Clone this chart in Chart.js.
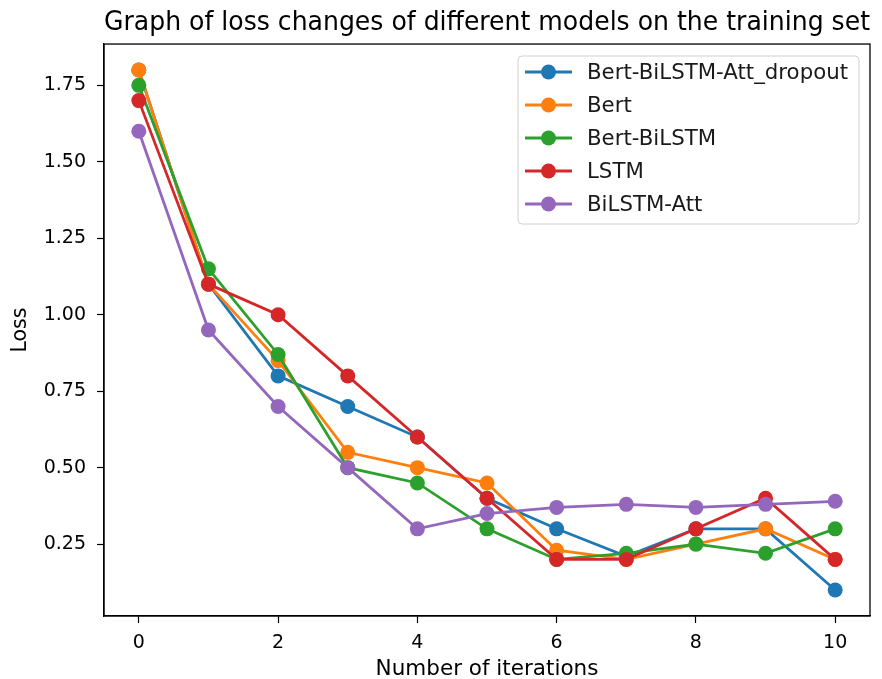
<!DOCTYPE html>
<html>
<head>
  <script src="https://cdn.jsdelivr.net/npm/chart.js"></script>
  <style>
    body { margin: 0; background: #fff; }
    #wrap { width: 882px; height: 679px; }
  </style>
</head>
<body>
<div id="wrap"><canvas id="lossChart"></canvas></div>
<script>
// iterations on the x axis
const iterations = [0, 1, 2, 3, 4, 5, 6, 7, 8, 9, 10];
const xTicks = [0, 2, 4, 6, 8, 10];
const yTicks = [0.25, 0.5, 0.75, 1.0, 1.25, 1.5, 1.75];

const modelNames = ['Bert-BiLSTM-Att_dropout', 'Bert', 'Bert-BiLSTM', 'LSTM', 'BiLSTM-Att'];
const lossDropout = [1.8, 1.1, 0.8, 0.7, 0.6, 0.4, 0.3, 0.21, 0.3, 0.3, 0.1];
const lossBert = [1.8, 1.1, 0.85, 0.55, 0.5, 0.45, 0.23, 0.2, 0.25, 0.3, 0.2];
const lossBertBiLSTM = [1.75, 1.15, 0.87, 0.5, 0.45, 0.3, 0.2, 0.22, 0.25, 0.22, 0.3];
const lossLSTM = [1.7, 1.1, 1.0, 0.8, 0.6, 0.4, 0.2, 0.2, 0.3, 0.4, 0.2];
const lossBiLSTMAtt = [1.6, 0.95, 0.7, 0.5, 0.3, 0.35, 0.37, 0.38, 0.37, 0.38, 0.39];

const allLoss = [lossDropout, lossBert, lossBertBiLSTM, lossLSTM, lossBiLSTMAtt];
const colors = ['#1f77b4', '#ff7f0e', '#2ca02c', '#d62728', '#9467bd'];

const FONT = 'DejaVu Sans';

let datasets = modelNames.map((name, i) => ({
  label: name,
  data: iterations.map((x, j) => ({ x: x, y: allLoss[i][j] })),
  borderColor: colors[i],
  backgroundColor: colors[i],
  pointBackgroundColor: colors[i],
  pointBorderWidth: 0,
  pointRadius: 7.5,
  borderWidth: 2.8,
  tension: 0,
  order: modelNames.length - i   // later series on top, like matplotlib
}));

// frame around the plot area
const framePlugin = {
  id: 'frame',
  afterDatasetsDraw(chart) {
    const a = chart.chartArea;
    const c = chart.ctx;
    c.save();
    c.strokeStyle = '#000';
    c.lineWidth = 1.3;
    c.strokeRect(a.left, a.top, a.right - a.left, a.bottom - a.top);
    c.restore();
  }
};

// matplotlib style legend inside the plot, upper right
const mplLegend = {
  id: 'mplLegend',
  afterDraw(chart) {
    const c = chart.ctx;
    const box = { x: 518, y: 56, w: 341, h: 168 };
    c.save();
    c.fillStyle = 'rgba(255,255,255,0.85)';
    c.strokeStyle = '#d0d0d0';
    c.lineWidth = 1;
    c.beginPath();
    c.roundRect(box.x, box.y, box.w, box.h, 4);
    c.fill();
    c.stroke();
    c.font = '21.3px "' + FONT + '"';
    c.textBaseline = 'middle';
    chart.data.datasets.forEach((ds, i) => {
      const y = 72 + i * 33;
      c.strokeStyle = ds.borderColor;
      c.lineWidth = 2.8;
      c.beginPath();
      c.moveTo(525, y);
      c.lineTo(572, y);
      c.stroke();
      c.fillStyle = ds.borderColor;
      c.beginPath();
      c.arc(548.5, y, 7.5, 0, Math.PI * 2);
      c.fill();
      c.fillStyle = '#1a1a1a';
      c.fillText(ds.label, 587, y + 1);
    });
    c.restore();
  }
};

let ctx = document.getElementById('lossChart').getContext('2d');
const chart = new Chart(ctx, {
  type: 'line',
  data: { datasets: datasets },
  options: {
    responsive: true,
    maintainAspectRatio: false,
    animation: false,
    layout: { padding: { left: 0, right: 12, top: 0, bottom: 0 } },
    scales: {
      x: {
        type: 'linear',
        min: -0.5,
        max: 10.5,
        afterBuildTicks: s => { s.ticks = xTicks.map(v => ({ value: v })); },
        afterFit: s => { s.height = 63; },
        ticks: {
          color: '#000',
          font: { family: FONT, size: 19 },
          padding: 9,
          maxRotation: 0,
          callback: v => String(v)
        },
        grid: { drawOnChartArea: false, drawTicks: true, tickLength: 7, color: '#000', tickWidth: 1.2 },
        border: { display: true, color: '#000', width: 1.3 },
        title: {
          display: true,
          text: 'Number of iterations',
          color: '#000',
          font: { family: FONT, size: 21.5, lineHeight: 1 },
          padding: { top: 0, bottom: -1 }
        }
      },
      y: {
        min: 0.015,
        max: 1.885,
        afterBuildTicks: s => { s.ticks = yTicks.map(v => ({ value: v })); },
        afterFit: s => { s.width = 104; },
        ticks: {
          color: '#000',
          font: { family: FONT, size: 19 },
          padding: 11,
          callback: v => v.toFixed(2)
        },
        grid: { drawOnChartArea: false, drawTicks: true, tickLength: 7, color: '#000', tickWidth: 1.2 },
        border: { display: true, color: '#000', width: 1.3 },
        title: {
          display: true,
          text: 'Loss',
          color: '#000',
          font: { family: FONT, size: 20.5, lineHeight: 1 },
          padding: { top: 10, bottom: 0 }
        }
      }
    },
    plugins: {
      legend: { display: false },
      tooltip: { enabled: false },
      title: {
        display: true,
        fullSize: false,
        text: 'Graph of loss changes of different models on the training set',
        color: '#000',
        font: { family: FONT, size: 26.2, weight: 'normal', lineHeight: 1.2 },
        padding: { top: 7, bottom: 5.6 }
      }
    }
  },
  plugins: [framePlugin, mplLegend]
});
</script>
</body>
</html>
